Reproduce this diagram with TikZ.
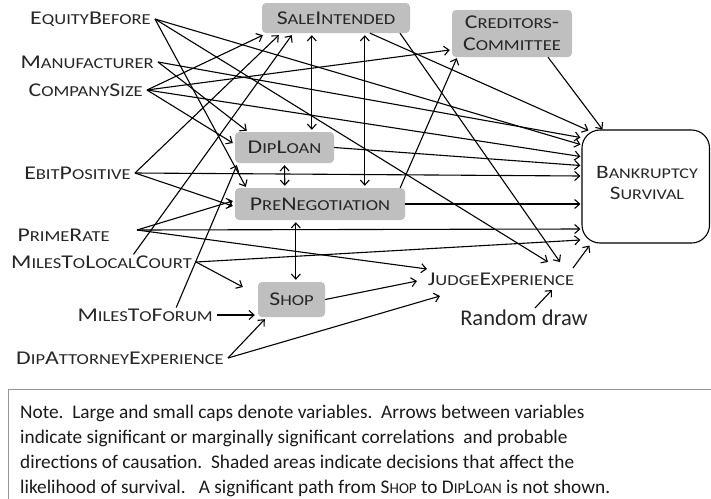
\documentclass[tikz,border=0pt]{standalone}
\usepackage{fontspec}
\setmainfont{Carlito}
\newfontfamily\lblfont[FakeStretch=1.22]{Carlito}
\usetikzlibrary{arrows.meta,calc}
\makeatletter
\newcommand\lc[1]{{\fontsize{\strip@pt\dimexpr0.78\dimexpr\f@size pt\relax\relax}{\f@baselineskip}\selectfont #1}}
\makeatother
\definecolor{boxgray}{RGB}{191,191,191}
\definecolor{notegray}{RGB}{150,150,150}
\begin{document}
\begin{tikzpicture}[x=1pt,y=-1pt,
  lbl/.style={font=\lblfont\fontsize{19.5}{22}\selectfont, inner xsep=4pt, inner ysep=1pt, anchor=east, text=black!85},
  gbox/.style={fill=boxgray, rounded corners=4pt, font=\lblfont\fontsize{19.5}{22}\selectfont, align=center, inner sep=0pt, text=black!85},
  arr/.style={-{Straight Barb[length=5pt,width=9pt]}, line width=1.1pt},
  darr/.style={{Straight Barb[length=5pt,width=9pt]}-{Straight Barb[length=5pt,width=9pt]}, line width=1.1pt}]
\useasboundingbox (0,0) rectangle (711,498);

% boxes
\node[gbox, minimum width=148, minimum height=30] (sale) at (336,18) {S\lc{ALE}I\lc{NTENDED}};
\node[gbox, minimum width=120, minimum height=47] (cc) at (512,33.5) {C\lc{REDITORS}-\\C\lc{OMMITTEE}};
\node[gbox, minimum width=99, minimum height=31] (dip) at (284.5,147.5) {D\lc{IP}L\lc{OAN}};
\node[gbox, minimum width=170, minimum height=32] (pre) at (320,204) {P\lc{RE}N\lc{EGOTIATION}};
\node[gbox, minimum width=67, minimum height=35] (shop) at (291.5,299.5) {S\lc{HOP}};
\node[draw, line width=1.1pt, fill=white, rounded corners=18pt, minimum width=127.5, minimum height=113,
      inner sep=0pt] (bs) at (645.75,186.5) {};
\node[align=center, inner sep=0pt, font=\lblfont\fontsize{19}{21}\selectfont, text=black!85] (bstext) at (647,182.5)
      {B\lc{ANKRUPTCY}\\S\lc{URVIVAL}};

% labels
\node[lbl] (eq) at (155,19) {E\lc{QUITY}B\lc{EFORE}};
\node[lbl] (man) at (158,62) {M\lc{ANUFACTURER}};
\node[lbl] (cs) at (147,90) {C\lc{OMPANY}S\lc{IZE}};
\node[lbl] (ebit) at (135,173) {E\lc{BIT}P\lc{OSITIVE}};
\node[lbl] (prime) at (114,235) {P\lc{RIME}R\lc{ATE}};
\node[lbl] (mlc) at (196,262) {M\lc{ILES}T\lc{O}L\lc{OCAL}C\lc{OURT}};
\node[lbl] (mtf) at (217,315) {M\lc{ILES}T\lc{O}F\lc{ORUM}};
\node[lbl] (dae) at (228,358) {D\lc{IP}A\lc{TTORNEY}E\lc{XPERIENCE}};
\node[lbl, anchor=center] (judge) at (501,279) {J\lc{UDGE}E\lc{XPERIENCE}};
\node[font=\fontsize{22.5}{26}\selectfont, text=black!85] (rand) at (524,318) {Random draw};

% note
\node[draw=notegray, line width=1.3pt, anchor=north west, minimum width=712, minimum height=120] (notebox) at (8,389) {};
\node[anchor=north west, align=left, font=\fontsize{19.3}{24.8}\selectfont, text=black!90, inner sep=0pt] (note) at (20,405)
{Note.\ \ Large and small caps denote variables.\ \ Arrows between variables\\
indicate significant or marginally significant correlations\ \ and probable\\
directions of causation.\ \ Shaded areas indicate decisions that affect the\\
likelihood of survival.\ \ \ A significant path from S\lc{HOP} to D\lc{IP}L\lc{OAN} is not shown.};

% edges into Bankruptcy Survival
\draw[arr] ($(cc.south)+(36,0)$) -- ($(bs.north west)+(21,0)$);
\draw[arr] ($(sale.south)+(34,0)$) -- ($(bs.north west)+(7,1)$);
\draw[arr] (eq.east) -- ($(bs.west)+(-1,-42)$);
\draw[arr] (man.east) -- ($(bs.west)+(-1,-49)$);
\draw[arr] (cs.east) -- ($(bs.west)+(-1,-30)$);
\draw[arr] (dip.east) -- ($(bs.west)+(-1,-21)$);
\draw[arr] (ebit.east) -- ($(bs.west)+(-1,-10.5)$);
\draw[arr] (pre.east) -- ($(pre.east -| bs.west)+(-1,0)$);
\draw[arr] ($(prime.east)+(23,-5)$) -- ($(bs.west)+(-1,42.5)$);
\draw[arr] (mlc.east) -- ($(bs.west)+(-1,53.5)$);
\draw[arr] ($(judge.center)+(72,-11)$) -- ($(bs.south west)+(8,2)$);

% edges into JudgeExperience
\draw[arr] (eq.east) -- ($(judge.center)+(47,-17)$);
\draw[arr] ($(sale.south)+(64,0)$) -- ($(judge.center)+(59,-17)$);
\draw[arr] ($(prime.east)+(23,-5)$) -- ($(judge.center)+(-74,-10)$);
\draw[arr] (shop.east) -- ($(judge.center)+(-84,2)$);
\draw[arr] (dae.east) -- ($(judge.center)+(-61,17)$);
\draw[arr] ($(rand.center)+(11,-10)$) -- ($(judge.center)+(51,11)$);

% edges into Creditors-Committee
\draw[arr] (cs.east) -- ($(cc.west)+(-2,16.5)$);
\draw[arr] ($(pre.north east)+(-5,0)$) -- ($(cc.south west)+(5,1)$);

% double arrows among decisions
\draw[darr] ($(sale.south west)+(50,2)$) -- ($(dip.north west)+(77,-2)$);
\draw[darr] ($(sale.south west)+(103,2)$) -- ($(pre.north west)+(130,-2)$);
\draw[darr] ($(dip.south)+(0,2)$) -- ($(pre.north west)+(50,-2)$);
\draw[darr] ($(pre.south west)+(61,2)$) -- ($(shop.north west)+(38,-2)$);

% edges into Shop
\draw[arr] (mlc.east) -- ($(shop.west)+(-15,-12.5)$);
\draw[arr] (mtf.east) -- ($(mtf.east -| shop.west)+(-3,0)$);
\draw[arr] (dae.east) -- ($(shop.south west)+(7,2)$);

% edges into SaleIntended
\draw[arr] (cs.east) -- ($(sale.south west)+(1,2)$);
\draw[arr] (ebit.east) -- ($(sale.south west)+(17,2)$);
\draw[arr] ($(mlc.north)+(32,0)$) -- ($(sale.south west)+(30,2)$);

% edges into DipLoan
\draw[arr] ($(mtf.north)+(31,0)$) -- ($(dip.south west)+(2,2)$);
\draw[arr] (man.east) -- ($(dip.north west)+(12,-1)$);
\draw[arr] (cs.east) -- ($(dip.west)+(-2,-4.5)$);

% edges into PreNegotiation
\draw[arr] (eq.east) -- ($(pre.north west)+(11,-1)$);
\draw[arr] (ebit.east) -- ($(pre.west)+(-2,2)$);
\draw[arr] ($(prime.east)+(23,-5)$) -- ($(pre.west)+(-2,-3)$);
\end{tikzpicture}
\end{document}
